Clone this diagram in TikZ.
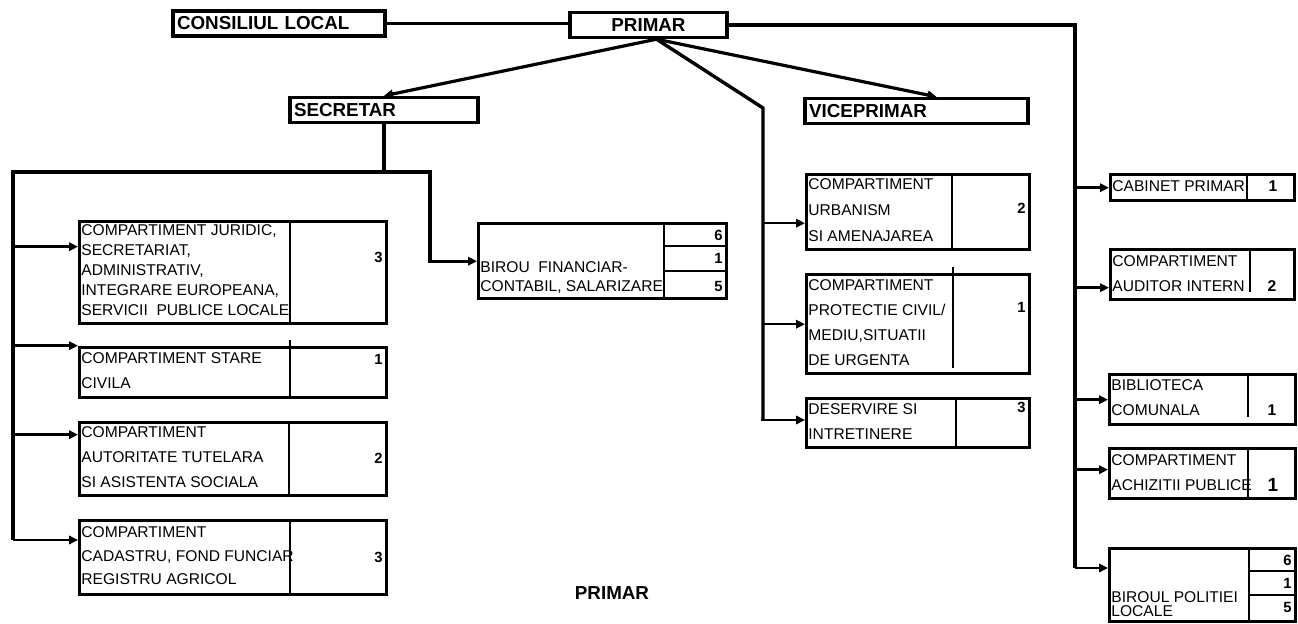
\documentclass[tikz,border=0pt]{standalone}
\usepackage{fontspec}
\setmainfont{Liberation Sans}
\usetikzlibrary{arrows.meta,positioning,calc}

\tikzset{
  box/.style={draw, line width=1.7pt, rectangle, anchor=north west, inner sep=0pt},
  hbox/.style={draw, line width=1.7pt, rectangle, inner xsep=2pt, inner ysep=0pt,
    minimum height=12.5pt, text width=#1, align=left, font=\bfseries\fontsize{9.4}{10}\selectfont},
  lbl/.style={anchor=west, align=left, inner sep=0pt, font=\fontsize{7.8}{#1}\selectfont},
  lbl/.default=12.5pt,
  num/.style={anchor=east, inner sep=0pt, font=\bfseries\fontsize{7.4}{8}\selectfont},
  rnum/.style={inner sep=0pt, font=\bfseries\fontsize{#1}{10}\selectfont},
  rnum/.default=7.8,
  link/.style={line width=1.7pt},
  arr/.style={line width=1.3pt, -{Triangle[length=4.5pt,width=4.2pt]}},
  bigarr/.style={arr, line width=1.6pt},
  div/.style={line width=#1},
  div/.default=0.6pt,
}

\begin{document}
\begin{tikzpicture}[x=0.5pt,y=-0.5pt]
        \useasboundingbox (0,0) rectangle (1298,624);

        % Top level
        \node[hbox=102pt] (cons) at (279,23.5) {CONSILIUL LOCAL};
        \node[hbox=74.5pt, align=center] (prim) at (648.5,25) {PRIMAR};
        \node[hbox=90pt] (secr) at (384,110) {SECRETAR};
        \node[hbox=107.5pt] (vice) at (916.5,111) {VICEPRIMAR};

        % Secretar branch
        \node[box, minimum width=153.5pt, minimum height=51pt] (jur) at (78,220) {};
        \node[lbl=10pt] (jurl) at (81,270) {COMPARTIMENT JURIDIC,\\SECRETARIAT,\\ADMINISTRATIV,\\INTEGRARE EUROPEANA,\\SERVICII\ \ PUBLICE LOCALE};
        \node[num] (jurn) at (383,257) {3};
        \draw[div=1.3pt] (290,0 |- jur.north) -- (290,0 |- jur.south);

        \node[box, minimum width=153.5pt, minimum height=25pt] (stc) at (78,346) {};
        \node[lbl] (stcl) at (81,370.5) {COMPARTIMENT STARE\\CIVILA};
        \node[num] (stcn) at (383,359) {1};
        \draw[div=1.3pt] (290,340) -- (290,0 |- stc.south);

        \node[box, minimum width=153.5pt, minimum height=36.5pt] (tut) at (78,421) {};
        \node[lbl] (tutl) at (81,457.5) {COMPARTIMENT\\AUTORITATE TUTELARA\\SI ASISTENTA SOCIALA};
        \node[num] (tutn) at (383,458) {2};
        \draw[div=0.7pt] (289,0 |- tut.north) -- (289,0 |- tut.south);

        \node[box, minimum width=153.5pt, minimum height=37pt] (cad) at (78,519) {};
        \node[lbl=11.75pt] (cadl) at (81,556) {COMPARTIMENT\\CADASTRU, FOND FUNCIAR\\REGISTRU AGRICOL};
        \node[num] (cadn) at (383,557) {3};
        \draw[div=1pt] (290,0 |- cad.north) -- (290,0 |- cad.south);

        \node[box, minimum width=124pt, minimum height=37.5pt] (bfin) at (477,222) {};
        \node[lbl=9.5pt] (bfinl) at (480,277.5) {BIROU\ \ FINANCIAR-\\CONTABIL, SALARIZARE};
        \draw[div=1.3pt] (664,0 |- bfin.north) -- (664,0 |- bfin.south);
        \draw[div=1.3pt] (664,246) -- (bfin.east |- 0,246);
        \draw[div=1.3pt] (664,271) -- (bfin.east |- 0,271);
        \node[num] (bfin6) at (723,235) {6};
        \node[num] (bfin1) at (723,258) {1};
        \node[num] (bfin5) at (723,286) {5};

        % Viceprimar branch
        \node[box, minimum width=111.5pt, minimum height=37.5pt] (urb) at (805,173) {};
        \node[lbl=13pt] (urbl) at (808,210) {COMPARTIMENT\\URBANISM\\SI AMENAJAREA};
        \node[num] (urbn) at (1026,208) {2};
        \draw[div] (952,0 |- urb.north) -- (952,0 |- urb.south);

        \node[box, minimum width=111.5pt, minimum height=49.5pt] (prot) at (805,273) {};
        \node[lbl] (protl) at (808,322.5) {COMPARTIMENT\\PROTECTIE CIVIL/\\MEDIU,SITUATII\\DE URGENTA};
        \node[num] (protn) at (1026,307) {1};
        \draw[div] (953,267) -- (953,368);

        \node[box, minimum width=111.5pt, minimum height=24.5pt] (des) at (805,397) {};
        \node[lbl] (desl) at (808,421.5) {DESERVIRE SI\\INTRETINERE};
        \node[num] (desn) at (1026,407) {3};
        \draw[div=1pt] (956,0 |- des.north) -- (956,0 |- des.south);

        % Primar branch
        \node[box, minimum width=92pt, minimum height=13pt] (cab) at (1109,173) {};
        \node[lbl] (cabl) at (1112,186) {CABINET PRIMAR};
        \node[rnum] (cabn) at (1273,186) {1};
        \draw[div] (1247,0 |- cab.north) -- (1247,0 |- cab.south);

        \node[box, minimum width=92pt, minimum height=25pt] (aud) at (1109,248) {};
        \node[lbl] (audl) at (1112,273.5) {COMPARTIMENT\\AUDITOR INTERN};
        \node[rnum] (audn) at (1272,286) {2};
        \draw[div] (1250,0 |- aud.north) -- (1250,292);

        \node[box, minimum width=93pt, minimum height=25pt] (bib) at (1108,373) {};
        \node[lbl] (bibl) at (1111,397.5) {BIBLIOTECA\\COMUNALA};
        \node[rnum] (bibn) at (1272,410) {1};
        \draw[div] (1248,0 |- bib.north) -- (1248,417);

        \node[box, minimum width=93pt, minimum height=25pt] (ach) at (1108,447) {};
        \node[lbl] (achl) at (1111,472.5) {COMPARTIMENT\\ACHIZITII PUBLICE};
        \node[rnum=9.5] (achn) at (1273,485) {1};
        \draw[div=1pt] (1248,0 |- ach.north) -- (1248,0 |- ach.south);

        \node[box, minimum width=93pt, minimum height=36.5pt] (pol) at (1108,547) {};
        \node[lbl=7pt] (poll) at (1111,604) {BIROUL POLITIEI\\LOCALE};
        \draw[div=1pt] (1249,0 |- pol.north) -- (1249,0 |- pol.south);
        \draw[div] (1249,571) -- (pol.east |- 0,571);
        \draw[div] (1249,595) -- (pol.east |- 0,595);
        \node[num] (pol6) at (1292,560) {6};
        \node[num] (pol1) at (1292,583) {1};
        \node[num] (pol5) at (1292,607) {5};

        % Signature
        \node[font=\bfseries\fontsize{9.4}{10}\selectfont] (sign) at (612,593) {PRIMAR};

        % Connectors
        \coordinate (hub) at ([xshift=4pt]prim.south);
        \coordinate (mbend) at (763,108);
        \coordinate (mend) at (763,420);
        \coordinate (rbot) at (1075,568);
        \coordinate (sjoin) at (384,172);
        \coordinate (bbend) at (430,172);
        \coordinate (lbot) at (13,540);

        \draw[link] (cons.east) -- (cons.east -| prim.west);
        \draw[bigarr] (hub) -- (secr.north);
        \draw[bigarr] (hub) -- ([xshift=10pt]vice.north);
        \draw[link] (hub) -- (mbend) -- (mend);
        \draw[link] (prim.east) -- (prim.east -| rbot) -- (rbot);

        \draw[arr] ([yshift=-5.5pt]urb.west -| mbend) -- ([yshift=-5.5pt]urb.west);
        \draw[arr] (prot.west -| mbend) -- (prot.west);
        \draw[arr] ([xshift=-1pt]mend) -- (des.west |- mend);

        \draw[arr] (cab.west -| rbot) -- (cab.west);
        \draw[arr] ([yshift=-6.5pt]aud.west -| rbot) -- ([yshift=-6.5pt]aud.west);
        \draw[arr] (bib.west -| rbot) -- (bib.west);
        \draw[arr] ([yshift=2pt]ach.west -| rbot) -- ([yshift=2pt]ach.west);
        \draw[arr] (rbot) -- (pol.west |- rbot);

        \draw[link] (secr.south) -- (sjoin) -- (sjoin -| lbot) -- (lbot);
        \draw[arr] (lbot) -- (cad.west |- lbot);
        \draw[bigarr] (sjoin) -- (bbend) -- (bbend |- bfin.west) -- (bfin.west);
        \draw[arr] ([yshift=13pt]jur.west -| lbot) -- ([yshift=13pt]jur.west);
        \draw[arr] ([yshift=13.5pt]stc.west -| lbot) -- ([yshift=13.5pt]stc.west);
        \draw[arr] ([yshift=12.25pt]tut.west -| lbot) -- ([yshift=12.25pt]tut.west);
    \end{tikzpicture}
\end{document}
